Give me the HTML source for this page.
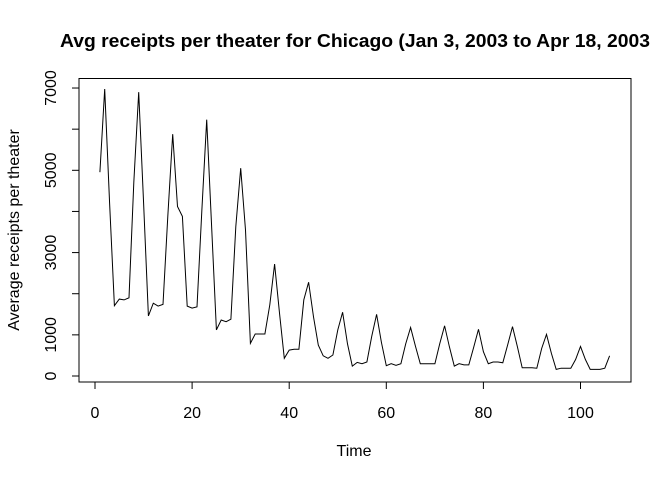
<!DOCTYPE html>
<html><head><meta charset="utf-8"><style>
body{margin:0;background:#fff;}
svg{display:block;font-family:"Liberation Sans",Arial,sans-serif;}
</style></head><body>
<svg id="chart" width="672" height="480">
<rect width="672" height="480" fill="#fff"/>
<text x="355" y="47" text-anchor="middle" font-size="18.5" font-weight="bold" textLength="590" lengthAdjust="spacingAndGlyphs">Avg receipts per theater for Chicago (Jan 3, 2003 to Apr 18, 2003</text>
<text x="354" y="456" text-anchor="middle" font-size="16">Time</text>
<text transform="translate(19,230) rotate(-90)" text-anchor="middle" font-size="16">Average receipts per theater</text>
<rect x="79" y="78.5" width="552" height="303.5" fill="none" stroke="#000" stroke-width="1"/>
<g id="xaxis"></g><g id="yaxis"></g>
<polyline id="series" fill="none" stroke="#000" stroke-width="1"/>
</svg>
<script>
const values = [4955,6975,4200,1710,1870,1850,1900,4700,6900,4200,1460,1770,1700,1740,3880,5880,4120,3880,1700,1650,1680,4000,6230,3700,1120,1360,1320,1380,3630,5050,3550,795,1020,1020,1020,1730,2720,1530,430,630,650,650,1850,2280,1440,750,490,430,510,1120,1550,780,240,330,300,340,960,1500,820,250,300,260,300,780,1180,730,300,300,300,300,780,1220,710,240,300,270,270,700,1135,590,300,340,340,320,760,1200,710,200,200,200,190,670,1010,550,160,190,190,190,400,720,400,160,160,160,190,490];
const xTicks = [0,20,40,60,80,100];
const yTicks = [0,1000,2000,3000,4000,5000,6000,7000];
const yLabels = ["0","1000","","3000","","5000","","7000"];
const NS="http://www.w3.org/2000/svg";
function xs(t){return 95+4.855*t;}
function ys(v){return 376-v*0.04114;}
const pts=values.map((v,i)=>xs(i+1).toFixed(1)+","+ys(v).toFixed(1)).join(" ");
document.getElementById('series').setAttribute('points',pts);
const xa=document.getElementById('xaxis');
let l=document.createElementNS(NS,'line');
l.setAttribute('x1',xs(xTicks[0]));l.setAttribute('x2',xs(xTicks[xTicks.length-1]));l.setAttribute('y1',382);l.setAttribute('y2',382);l.setAttribute('stroke','#000');


xa.appendChild(l);
xTicks.forEach(t=>{
 const tk=document.createElementNS(NS,'line');
 tk.setAttribute('x1',xs(t));tk.setAttribute('x2',xs(t));tk.setAttribute('y1',382);tk.setAttribute('y2',389);tk.setAttribute('stroke','#000');
 
 
 xa.appendChild(tk);
 const tx=document.createElementNS(NS,'text');
 tx.setAttribute('x',xs(t));tx.setAttribute('y',418);tx.setAttribute('text-anchor','middle');tx.setAttribute('font-size','16');
 tx.textContent=t;
 
 
 xa.appendChild(tx);
});
const ya=document.getElementById('yaxis');
let yl=document.createElementNS(NS,'line');
yl.setAttribute('x1',79);yl.setAttribute('x2',79);yl.setAttribute('y1',ys(yTicks[0]));yl.setAttribute('y2',ys(yTicks[yTicks.length-1]));yl.setAttribute('stroke','#000');


ya.appendChild(yl);
yTicks.forEach((v,i)=>{
 const tk=document.createElementNS(NS,'line');
 tk.setAttribute('x1',72);tk.setAttribute('x2',79);tk.setAttribute('y1',ys(v));tk.setAttribute('y2',ys(v));tk.setAttribute('stroke','#000');
 
 
 ya.appendChild(tk);
 if(yLabels[i]){
  const tx=document.createElementNS(NS,'text');
  tx.setAttribute('transform','translate(56,'+ys(v)+') rotate(-90)');
  tx.setAttribute('text-anchor','middle');tx.setAttribute('font-size','16');
  tx.textContent=yLabels[i];
  
  
  ya.appendChild(tx);
 }
});
</script>
</body></html>
